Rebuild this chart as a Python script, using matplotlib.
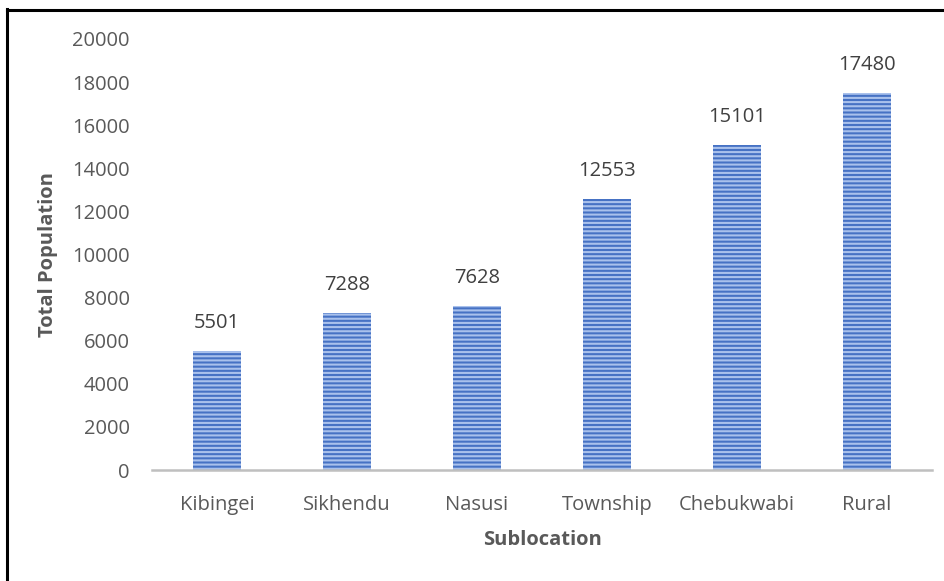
import matplotlib
matplotlib.use("Agg")
import matplotlib.pyplot as plt
from matplotlib.lines import Line2D

categories = ["Kibingei", "Sikhendu", "Nasusi", "Township", "Chebukwabi", "Rural"]
population = [5501, 7288, 7628, 12553, 15101, 17480]
yticks = [0, 2000, 4000, 6000, 8000, 10000, 12000, 14000, 16000, 18000, 20000]

plt.rcParams['font.family'] = ['Open Sans', 'DejaVu Sans']
plt.rcParams['hatch.linewidth'] = 1.5

fig = plt.figure(figsize=(9.44, 5.81), dpi=100)
ax = fig.add_axes([152/944, 1 - 470/581, 780/944, 431/581])

x = list(range(len(categories)))
bars = ax.bar(x, population, width=0.37, color='#4672c4', edgecolor='#a9c1ec',
              hatch='----', linewidth=0)

for xi, v in zip(x, population):
    ax.annotate(str(v), (xi, v), xytext=(0, 13), textcoords='offset points',
                ha='center', va='bottom', fontsize=14.5, color='#404040')

ax.set_xlim(-0.5, len(categories) - 0.5)
ax.set_ylim(0, 20000)
ax.set_yticks(yticks)
ax.set_yticklabels([str(t) for t in yticks])
ax.set_xticks(x)
ax.set_xticklabels(categories)

for s in ['top', 'right', 'left']:
    ax.spines[s].set_visible(False)
ax.spines['bottom'].set_color('#bfbfbf')
ax.spines['bottom'].set_linewidth(1.8)
ax.tick_params(axis='both', length=0, labelsize=14.5, colors='#595959')
ax.tick_params(axis='y', pad=16)
ax.tick_params(axis='x', pad=18)

ax.set_xlabel('Sublocation', fontsize=14.5, fontweight='bold', color='#595959', labelpad=11)
ax.set_ylabel('Total Population', fontsize=14.5, fontweight='bold', color='#595959', labelpad=10)

# outer frame (top and left edges visible)
fig.add_artist(Line2D([7/944, 7/944], [0, 1 - 9/581], transform=fig.transFigure,
                      color='black', linewidth=2.2))
fig.add_artist(Line2D([7/944, 1], [1 - 10/581, 1 - 10/581], transform=fig.transFigure,
                      color='black', linewidth=2.2))

fig.savefig('out.png', dpi=100)
